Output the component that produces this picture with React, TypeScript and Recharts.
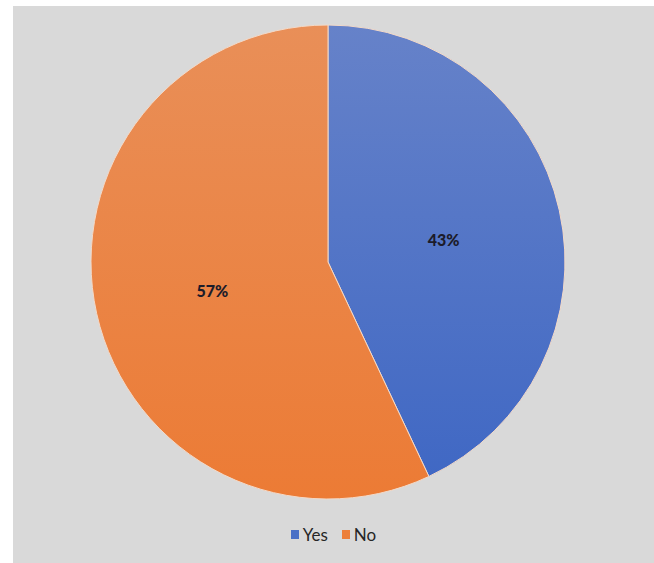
import { PieChart, Pie, Cell, Legend } from "recharts";

const labels = ["Yes", "No"];
const values = [43, 57];
const colors = ["#4a70c6", "#ec7f3a"];

const data = labels.map((name, i) => ({ name, value: values[i] }));

const RADIAN = Math.PI / 180;
const FONT = "Lato, 'Open Sans', sans-serif";

function renderLabel(props: any) {
  const { cx, cy, midAngle, outerRadius, percent } = props;
  const r = outerRadius * 0.5;
  const x = cx + r * Math.cos(-midAngle * RADIAN);
  const y = cy + r * Math.sin(-midAngle * RADIAN) + 3;
  return (
    <text
      x={x}
      y={y}
      fill="#1c1c2a"
      textAnchor="middle"
      dominantBaseline="central"
      fontSize={16}
      fontWeight={900}
      fontFamily={FONT}
    >
      {`${Math.round(percent * 100)}%`}
    </text>
  );
}

function LegendBox() {
  return (
    <div
      style={{
        display: "flex",
        justifyContent: "center",
        alignItems: "center",
        gap: 14,
        fontFamily: FONT,
        fontSize: 17,
        color: "#262626",
      }}
    >
      {labels.map((l, i) => (
        <span key={l} style={{ display: "flex", alignItems: "center" }}>
          <span
            style={{
              width: 8,
              height: 9,
              background: colors[i],
              marginRight: 4,
              display: "inline-block",
            }}
          />
          {l}
        </span>
      ))}
    </div>
  );
}

export default function App() {
  return (
    <div style={{ position: "fixed", inset: 0, background: "#ffffff" }}>
      <div
        style={{
          position: "absolute",
          left: 13,
          top: 6,
          width: 641,
          height: 557,
          background: "#d9d9d9",
        }}
      >
        <PieChart width={641} height={557}>
          <defs>
            <linearGradient id="gYes" x1="0" y1="0" x2="0" y2="1">
              <stop offset="0%" stopColor="#6682c9" />
              <stop offset="100%" stopColor="#4068c4" />
            </linearGradient>
            <linearGradient id="gNo" x1="0" y1="0" x2="0" y2="1">
              <stop offset="0%" stopColor="#e98f58" />
              <stop offset="100%" stopColor="#ec7b35" />
            </linearGradient>
          </defs>
          <Pie
            data={data}
            dataKey="value"
            nameKey="name"
            cx={310}
            cy={251}
            outerRadius={237}
            startAngle={90}
            endAngle={-270}
            stroke="#f3d9c8"
            strokeWidth={1}
            label={renderLabel}
            labelLine={false}
            isAnimationActive={false}
          >
            <Cell fill="url(#gYes)" />
            <Cell fill="url(#gNo)" />
          </Pie>
          <Legend
            verticalAlign="bottom"
            align="center"
            wrapperStyle={{ bottom: 18 }}
            content={<LegendBox />}
          />
        </PieChart>
      </div>
    </div>
  );
}
